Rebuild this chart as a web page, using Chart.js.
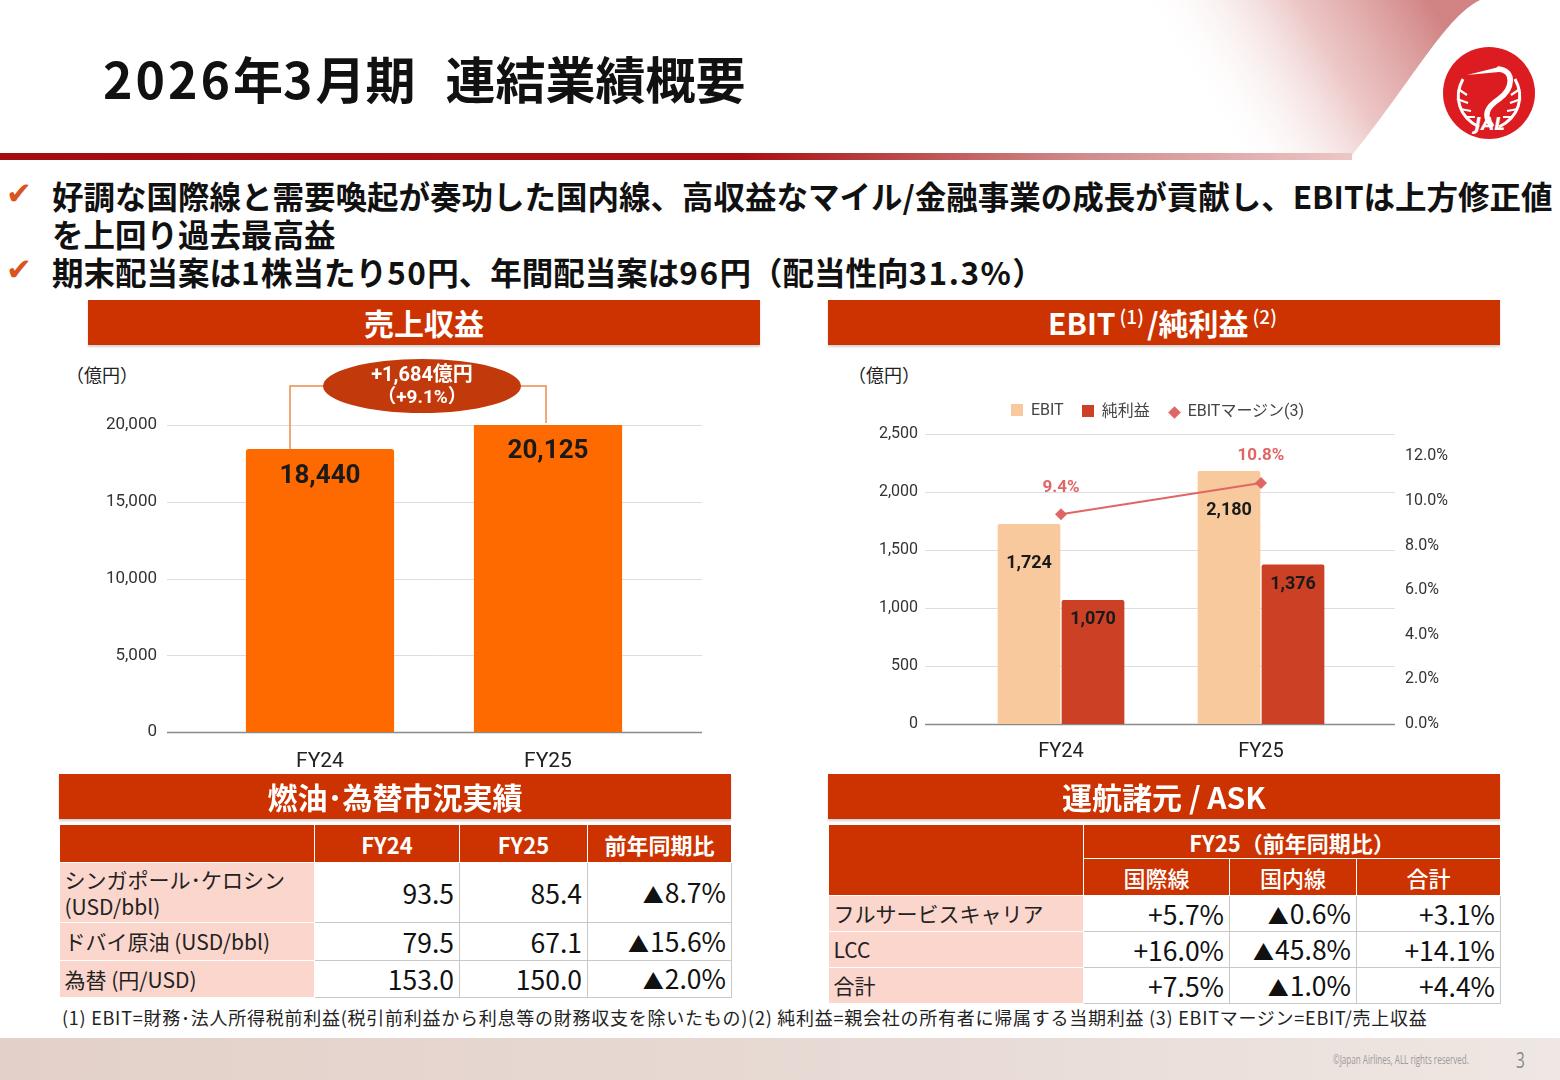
<!DOCTYPE html>
<html lang="ja">
<head>
<meta charset="utf-8">
<title>2026年3月期 連結業績概要</title>
<script src="https://cdn.jsdelivr.net/npm/chart.js@4.4.1/dist/chart.umd.min.js"></script>
<style>
  html, body { margin: 0; padding: 0; }
  body { width: 1560px; height: 1080px; position: relative; overflow: hidden; background: #fff;
         font-family: "Noto Sans CJK JP", "Noto Sans", sans-serif; color: #111; }
  .abs { position: absolute; }
  .title { left: 103px; top: 41px; font-size: 50px; font-weight: 700; white-space: nowrap; }
  .title .n { letter-spacing: 3px; }
  .title .gap { display: inline-block; width: 30px; }
  .check { font-family: "DejaVu Sans", sans-serif; color: #d9541e; font-size: 31px; left: 6px; font-weight: bold; }
  .bullet { left: 52px; font-size: 31.5px; font-weight: 700; white-space: nowrap; line-height: 38px; }
  .bullet .n { letter-spacing: 1.5px; }
  .bar { background: #cc3300; color: #fff; font-weight: 700; font-size: 30px; text-align: center;
         line-height: 45px; height: 45px; box-shadow: 0 2px 2px rgba(0,0,0,0.18); white-space: nowrap; }
  .bar .sp { font-size: 19px; font-weight: 500; position: relative; top: -11px; margin: 0 3px 0 4px; }
  .unit { font-size: 18px; color: #222; }
  table { border-collapse: collapse; table-layout: fixed; position: absolute; }
  td { padding: 0 4px; white-space: nowrap; }
  td.h { background: #cc3300; color: #fff; text-align: center; font-weight: 700; font-size: 22px; border: 1.5px solid #fff; line-height: 28px; }
  td.hs { font-weight: 500; }
  td.lab { background: #fbd6cd; font-size: 21px; color: #222; border: 1.5px solid #fff; border-left: none; padding-left: 5px; line-height: 27px; }
  td.v { background: #fff; text-align: right; font-size: 26.5px; line-height: 30px; color: #111; border: 1.5px solid #c8c8c8; padding-right: 5px; }
  td.v .tri { font-size: 21px; margin-right: 1px; }
  .legend { left: 830px; top: 397px; width: 655px; display: flex; justify-content: center; align-items: center;
            font-family: Roboto, "Noto Sans CJK JP", sans-serif; font-size: 16px; color: #444; gap: 18px; }
  .legend span.k { display: inline-block; width: 12px; height: 12px; margin-right: 8px; vertical-align: -1px; }
  .legend span.d { width: 9px; height: 9px; transform: rotate(45deg); margin-right: 9px; margin-left: 2px; }
  .note { left: 62px; top: 1004px; font-size: 18px; color: #222; white-space: nowrap; letter-spacing: 0.75px; }
  .footer { left: 0; top: 1038px; width: 1560px; height: 42px; background: linear-gradient(90deg, #e3d1c9 0%, #e8dbd5 60%, #efe7e3 100%); }
  .copy { left: 1333px; top: 1050px; font-family: "Open Sans", sans-serif; font-size: 13px; color: #9a9a9a; white-space: nowrap;
          transform: scaleX(0.62); transform-origin: 0 0; }
  .page { left: 1516px; top: 1044px; font-size: 22px; color: #8a8a8a; font-family: "Open Sans", sans-serif; transform: scaleX(0.7); transform-origin: 0 0; }
</style>
</head>
<body>

<!-- header decoration -->
<svg class="abs" style="left:0;top:0" width="1560" height="170">
  <defs>
    <linearGradient id="swoosh" x1="1230" y1="150" x2="1440" y2="20" gradientUnits="userSpaceOnUse">
      <stop offset="0" stop-color="#ffffff" stop-opacity="0"/>
      <stop offset="0.55" stop-color="#e6b3b3" stop-opacity="0.75"/>
      <stop offset="1" stop-color="#cf7d7d" stop-opacity="0.95"/>
    </linearGradient>
    <linearGradient id="rule" x1="0" y1="0" x2="1350" y2="0" gradientUnits="userSpaceOnUse">
      <stop offset="0" stop-color="#a40d10"/>
      <stop offset="0.55" stop-color="#a80f12"/>
      <stop offset="0.8" stop-color="#d08a8a"/>
      <stop offset="1" stop-color="#ecc6c6"/>
    </linearGradient>
  </defs>
  <path d="M1150 0 L1480 0 C1445 18 1420 70 1350 158 L1150 158 Z" fill="url(#swoosh)"/>
  <rect x="0" y="153" width="1352" height="7" fill="url(#rule)"/>
</svg>

<!-- JAL mark -->
<svg class="abs" style="left:1441px;top:45px" width="96" height="96" viewBox="0 0 96 96">
  <circle cx="48" cy="48" r="46" fill="#dd1c22"/>
  <path d="M22 34 C12 52 18 72 38 82" fill="none" stroke="#fff" stroke-width="3"/>
  <path d="M17 44 L26 50 M16 54 L27 58 M19 64 L30 66 M25 72 L34 72" stroke="#fff" stroke-width="2.2"/>
  <path d="M74 34 C84 52 78 72 58 82" fill="none" stroke="#fff" stroke-width="3"/>
  <path d="M79 44 L70 50 M80 54 L69 58 M77 64 L66 66 M71 72 L62 72" stroke="#fff" stroke-width="2.2"/>
  <path d="M58 24 C74 26 72 44 58 54 C46 62 42 70 50 80" fill="none" stroke="#fff" stroke-width="5.5" stroke-linecap="round"/>
  <path d="M58 22 L26 30 L58 27 Z" fill="#fff"/>
  <text x="49" y="85" text-anchor="middle" font-family="DejaVu Sans" font-style="italic" font-weight="bold" font-size="17" fill="#fff">JAL</text>
</svg>

<div class="abs title"><span class="n">2026</span>年<span class="n">3</span>月期<span class="gap"></span>連結業績概要</div>

<div class="abs check" style="top:175px">✔</div>
<div class="abs bullet" style="top:176px">好調な国際線と需要喚起が奏功した国内線、高収益なマイル/金融事業の成長が貢献し、EBITは上方修正値</div>
<div class="abs bullet" style="top:214px">を上回り過去最高益</div>
<div class="abs check" style="top:251px">✔</div>
<div class="abs bullet" style="top:252px">期末配当案は<span class="n">1</span>株当たり<span class="n">50</span>円、年間配当案は<span class="n">96</span>円（配当性向<span class="n">31.3%</span>）</div>

<div class="abs bar" style="left:88px;top:300px;width:672px">売上収益</div>
<div class="abs bar" style="left:828px;top:300px;width:672px">EBIT<span class="sp">(1)</span>/純利益<span class="sp">(2)</span></div>

<div class="abs unit" style="left:66px;top:361px">（億円）</div>
<div class="abs unit" style="left:848px;top:361px">（億円）</div>

<canvas id="revChart" class="abs" style="left:50px;top:345px" width="670" height="460"></canvas>
<canvas id="ebitChart" class="abs" style="left:820px;top:355px" width="680" height="450"></canvas>
<div class="abs legend" id="legend"></div>

<div class="abs bar" style="left:59px;top:774px;width:672px">燃油･為替市況実績</div>
<div class="abs bar" style="left:828px;top:774px;width:672px">運航諸元 / ASK</div>

<table id="fuelTable" style="left:59px;top:824px;width:672px"></table>
<table id="askTable" style="left:828px;top:824px;width:672px"></table>

<div class="abs note">(1) EBIT=財務･法人所得税前利益(税引前利益から利息等の財務収支を除いたもの)(2) 純利益=親会社の所有者に帰属する当期利益 (3) EBITマージン=EBIT/売上収益</div>

<div class="abs footer"></div>
<div class="abs copy">©Japan Airlines, ALL rights reserved.</div>
<div class="abs page">3</div>

<script>
// ---- data ----
const revCats = ['FY24', 'FY25'];
const revValues = [18440, 20125];
const revDiff = ['+1,684億円', '（+9.1%）'];

const ebitCats = ['FY24', 'FY25'];
const ebitValues = [1724, 2180];
const netValues = [1070, 1376];
const marginValues = [9.4, 10.8];
const seriesNames = ['EBIT', '純利益', 'EBITマージン(3)'];
const seriesColors = ['#f8c99c', '#cc4125', '#e06666'];

const fuelCols = ['FY24', 'FY25', '前年同期比'];
const fuelRows = ['シンガポール･ケロシン<br>(USD/bbl)', 'ドバイ原油 (USD/bbl)', '為替 (円/USD)'];
const fuelFY24 = ['93.5', '79.5', '153.0'];
const fuelFY25 = ['85.4', '67.1', '150.0'];
const fuelYoY = ['▲8.7%', '▲15.6%', '▲2.0%'];

const askHead = 'FY25（前年同期比）';
const askCols = ['国際線', '国内線', '合計'];
const askRows = ['フルサービスキャリア', 'LCC', '合計'];
const askIntl = ['+5.7%', '+16.0%', '+7.5%'];
const askDom = ['▲0.6%', '▲45.8%', '▲1.0%'];
const askTotal = ['+3.1%', '+14.1%', '+4.4%'];

// ---- tables + legend ----
(function () {
    // the slide draws the minus triangle a little smaller than the digits
    function cell(s) {
        return '<td class="v">' + s.replace('▲', '<span class="tri">▲</span>') + '</td>';
    }
    var t = document.getElementById('fuelTable');
    var html = '<colgroup><col style="width:255px"><col style="width:145px"><col style="width:128px"><col style="width:144px"></colgroup>';
    html += '<tr style="height:38px"><td class="h"></td>' + fuelCols.map(function (c) { return '<td class="h">' + c + '</td>'; }).join('') + '</tr>';
    var hs = [60, 38, 37];
    fuelRows.forEach(function (r, i) {
        html += '<tr style="height:' + hs[i] + 'px"><td class="lab">' + r + '</td>' + cell(fuelFY24[i]) + cell(fuelFY25[i]) + cell(fuelYoY[i]) + '</tr>';
    });
    t.innerHTML = html;

    var a = document.getElementById('askTable');
    html = '<colgroup><col style="width:255px"><col style="width:146px"><col style="width:127px"><col style="width:144px"></colgroup>';
    html += '<tr style="height:34px"><td class="h" rowspan="2"></td><td class="h" colspan="3">' + askHead + '</td></tr>';
    html += '<tr style="height:37px">' + askCols.map(function (c) { return '<td class="h hs">' + c + '</td>'; }).join('') + '</tr>';
    askRows.forEach(function (r, i) {
        html += '<tr style="height:36px"><td class="lab">' + r + '</td>' + cell(askIntl[i]) + cell(askDom[i]) + cell(askTotal[i]) + '</tr>';
    });
    a.innerHTML = html;

    var lg = document.getElementById('legend');
    lg.innerHTML = seriesNames.map(function (n, i) {
        return '<div><span class="k' + (i === 2 ? ' d' : '') + '" style="background:' + seriesColors[i] + '"></span>' + n + '</div>';
    }).join('');
})();

// ---- chart helpers ----
Chart.defaults.font.family = "Roboto, 'Noto Sans CJK JP', sans-serif";
Chart.defaults.color = '#444';

// horizontal grid that runs wider than the bar area
function wideGrid(x0, x1) {
    return {
        id: 'wideGrid',
        beforeDatasetsDraw: function (chart) {
            var ctx = chart.ctx, y = chart.scales.y;
            ctx.save();
            y.ticks.forEach(function (t) {
                var py = Math.round(y.getPixelForValue(t.value)) + 0.5;
                ctx.strokeStyle = t.value === 0 ? '#8a8a8a' : '#dedede';
                ctx.lineWidth = t.value === 0 ? 1.6 : 1;
                ctx.beginPath(); ctx.moveTo(x0, py); ctx.lineTo(x1, py); ctx.stroke();
            });
            ctx.restore();
        }
    };
}

// value labels inside the bar tops; line points get their own colour
function valueLabels(barFont, offsets, lineFont, lineOffset) {
    return {
        id: 'valueLabels',
        afterDatasetsDraw: function (chart) {
            var ctx = chart.ctx;
            ctx.save();
            ctx.textAlign = 'center';
            ctx.textBaseline = 'middle';
            chart.data.datasets.forEach(function (ds, i) {
                var meta = chart.getDatasetMeta(i);
                meta.data.forEach(function (el, j) {
                    if (ds.type === 'line') {
                        ctx.font = lineFont;
                        ctx.fillStyle = ds.borderColor;
                        ctx.fillText(ds.data[j].toFixed(1) + '%', el.x, el.y - lineOffset);
                    } else {
                        ctx.font = barFont;
                        ctx.fillStyle = '#1a1a1a';
                        ctx.fillText(ds.data[j].toLocaleString('en-US'), el.x, el.y + offsets[i]);
                    }
                });
            });
            ctx.restore();
        }
    };
}

// bracket + oval showing the year-on-year change
var diffBracket = {
    id: 'diffBracket',
    afterDatasetsDraw: function (chart) {
        var ctx = chart.ctx;
        var bars = chart.getDatasetMeta(0).data;
        var yb = chart.chartArea.top - 39;
        var xl = bars[0].x - 30, xr = bars[1].x - 2;
        ctx.save();
        ctx.strokeStyle = '#ef8a4e';
        ctx.lineWidth = 1.5;
        ctx.beginPath();
        ctx.moveTo(xl, bars[0].y); ctx.lineTo(xl, yb); ctx.lineTo(xr, yb); ctx.lineTo(xr, bars[1].y);
        ctx.stroke();
        var cx = (xl + xr) / 2 + 4;
        ctx.fillStyle = '#c23a0c';
        ctx.beginPath();
        ctx.ellipse(cx, yb, 99, 27, 0, 0, Math.PI * 2);
        ctx.fill();
        ctx.fillStyle = '#fff';
        ctx.textAlign = 'center';
        ctx.textBaseline = 'middle';
        ctx.font = "bold 20px Roboto, 'Noto Sans CJK JP', sans-serif";
        ctx.fillText(revDiff[0], cx, yb - 10);
        ctx.font = "bold 19px Roboto, 'Noto Sans CJK JP', sans-serif";
        ctx.fillText(revDiff[1], cx, yb + 12);
        ctx.restore();
    }
};

// nudge layout padding until the plot area sits where the slide has it
function placeArea(chart, pad, box) {
    for (var k = 0; k < 2; k++) {
        var a = chart.chartArea;
        pad.top += box.top - a.top;
        pad.bottom += a.bottom - box.bottom;
        pad.left += box.left - a.left;
        pad.right += a.right - box.right;
        chart.options.layout.padding = { top: pad.top, bottom: pad.bottom, left: pad.left, right: pad.right };
        chart.update();
    }
}

// ---- 1. 売上収益 ----
var revPad = { top: 78, right: 0, left: 0, bottom: 0 };
var revChart = new Chart(document.getElementById('revChart'), {
    type: 'bar',
    data: {
        labels: revCats,
        datasets: [{
            data: revValues,
            backgroundColor: '#ff6a00',
            borderRadius: 3,
            borderSkipped: 'bottom',
            categoryPercentage: 0.65,
            barPercentage: 1
        }]
    },
    options: {
        responsive: false,
        animation: false,
        layout: { padding: Object.assign({}, revPad) },
        plugins: { legend: { display: false }, tooltip: { enabled: false } },
        scales: {
            x: {
                grid: { display: false, drawTicks: false }, border: { display: false },
                ticks: { color: '#222', font: { size: 21 }, padding: 17 }
            },
            y: {
                min: 0, max: 20000,
                grid: { display: false, drawTicks: false }, border: { display: false },
                ticks: { stepSize: 5000, color: '#333', font: { size: 17 }, padding: 49,
                         callback: function (v) { return v.toLocaleString('en-US'); } }
            }
        }
    },
    plugins: [wideGrid(117, 652), valueLabels("bold 26px Roboto, sans-serif", [28], '', 0), diffBracket]
});
placeArea(revChart, revPad, { left: 156, right: 612, top: 80, bottom: 387 });

// ---- 2. EBIT / 純利益 ----
var ebitPad = { top: 78, right: 0, left: 0, bottom: 0 };
var ebitChart = new Chart(document.getElementById('ebitChart'), {
    type: 'bar',
    data: {
        labels: ebitCats,
        datasets: [
            { type: 'line', label: seriesNames[2], data: marginValues, yAxisID: 'y1', order: 0,
              borderColor: seriesColors[2], backgroundColor: seriesColors[2], borderWidth: 2,
              pointStyle: 'rectRot', pointRadius: 6, pointBorderWidth: 0 },
            { label: seriesNames[0], data: ebitValues, backgroundColor: seriesColors[0], order: 1,
              borderRadius: 2, borderSkipped: 'bottom', categoryPercentage: 0.64, barPercentage: 0.98 },
            { label: seriesNames[1], data: netValues, backgroundColor: seriesColors[1], order: 1,
              borderRadius: 2, borderSkipped: 'bottom', categoryPercentage: 0.64, barPercentage: 0.98 }
        ]
    },
    options: {
        responsive: false,
        animation: false,
        layout: { padding: Object.assign({}, ebitPad) },
        plugins: { legend: { display: false }, tooltip: { enabled: false } },
        scales: {
            x: {
                grid: { display: false, drawTicks: false }, border: { display: false },
                ticks: { color: '#222', font: { size: 20 }, padding: 16 }
            },
            y: {
                min: 0, max: 2500,
                grid: { display: false, drawTicks: false }, border: { display: false },
                ticks: { stepSize: 500, color: '#333', font: { size: 16 }, padding: 43,
                         callback: function (v) { return v.toLocaleString('en-US'); } }
            },
            y1: {
                position: 'right', min: 0, max: 13,
                grid: { display: false, drawTicks: false }, border: { display: false },
                ticks: { stepSize: 2, includeBounds: false, color: '#333', font: { size: 16 }, padding: 44,
                         callback: function (v) { return v > 12 ? '' : v.toFixed(1) + '%'; } }
            }
        }
    },
    plugins: [wideGrid(105, 575), valueLabels("bold 18px Roboto, sans-serif", [0, 39, 20], "bold 17px Roboto, sans-serif", 27)]
});
placeArea(ebitChart, ebitPad, { left: 141, right: 541, top: 79, bottom: 369 });
</script>
</body>
</html>
